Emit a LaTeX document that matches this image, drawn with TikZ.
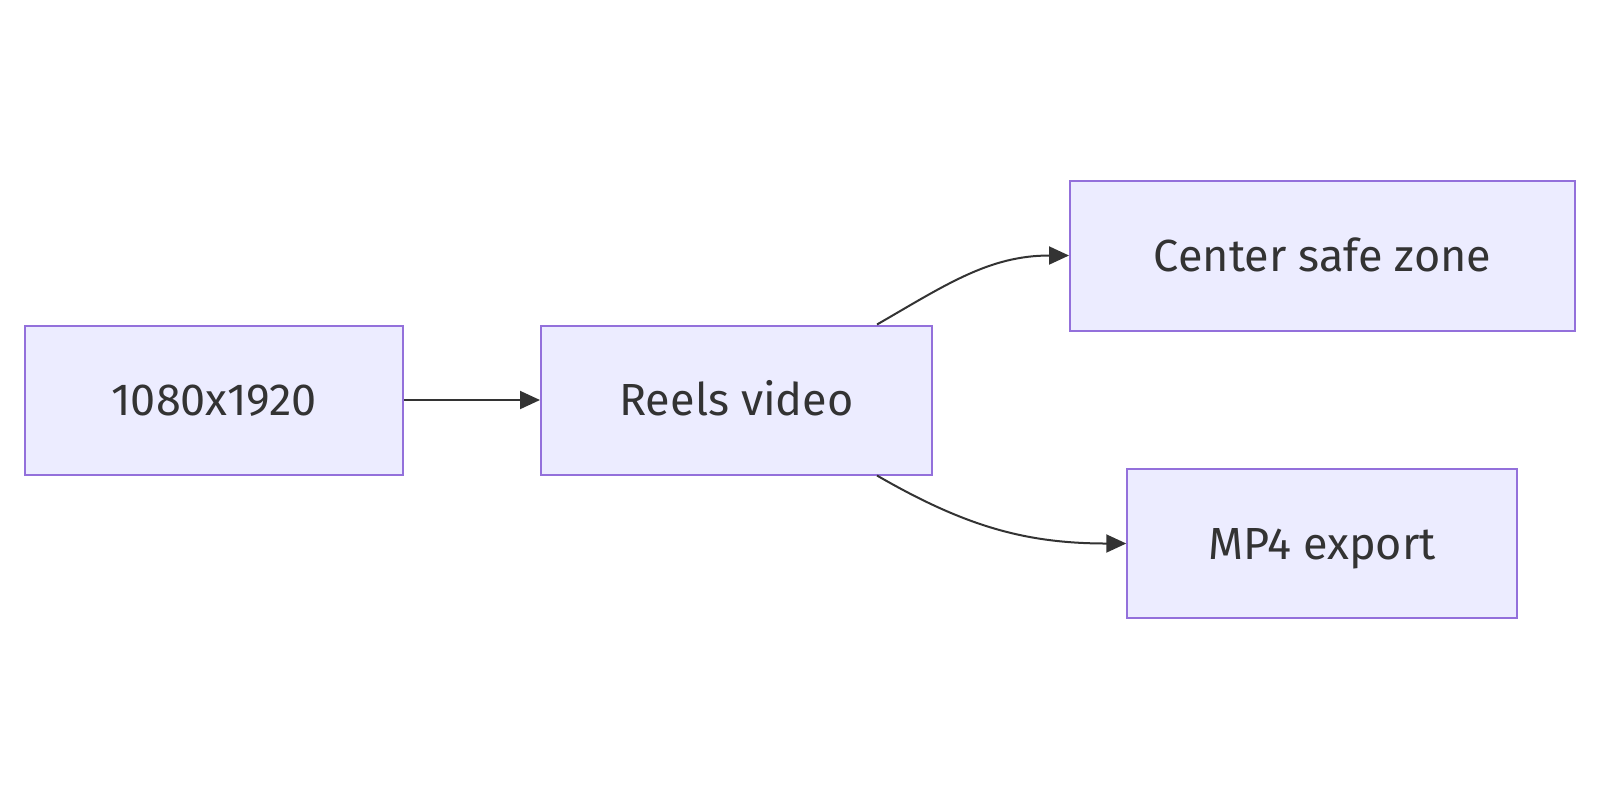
\documentclass[tikz,border=0pt]{standalone}
\usepackage{fontspec}
\setmainfont{Fira Sans}
\usetikzlibrary{arrows.meta,positioning}
\definecolor{boxfill}{HTML}{ECECFF}
\definecolor{boxline}{HTML}{9370DB}
\definecolor{edgeline}{HTML}{333333}
\begin{document}
\begin{tikzpicture}[x=0.5pt,y=-0.5pt,
        box/.style={rectangle,draw=boxline,fill=boxfill,line width=1pt,
            inner sep=0pt,font=\fontsize{22.5}{26}\selectfont,text=edgeline,
            text height=15.5pt,text depth=0pt},
        flow/.style={draw=edgeline,line width=1pt,
            -{Triangle[length=10pt,width=9pt]}}]
    \useasboundingbox (0,0) rectangle (1600,800);
    \node [box,minimum width=188.75pt,minimum height=74.5pt] (size) at (214,400) {1080x1920};
    \node [box,minimum width=195.5pt,minimum height=74.5pt] (reels) at (736.5,400) {Reels video};
    \node [box,minimum width=252.5pt,minimum height=75pt] (safe) at (1322.5,255.5) {Center safe zone};
    \node [box,minimum width=194.75pt,minimum height=74.5pt] (mp4) at (1322,543.5) {MP4 export};
    % edges
    \coordinate (up) at ([xshift=-28pt]reels.north east);
    \coordinate (down) at ([xshift=-28pt]reels.south east);
    \draw [flow] (size) -- (reels);
    \draw [flow] (up) to[out=30,in=180] (safe.west);
    \draw [flow] (down) to[out=-30,in=180] (mp4.west);
\end{tikzpicture}
\end{document}
